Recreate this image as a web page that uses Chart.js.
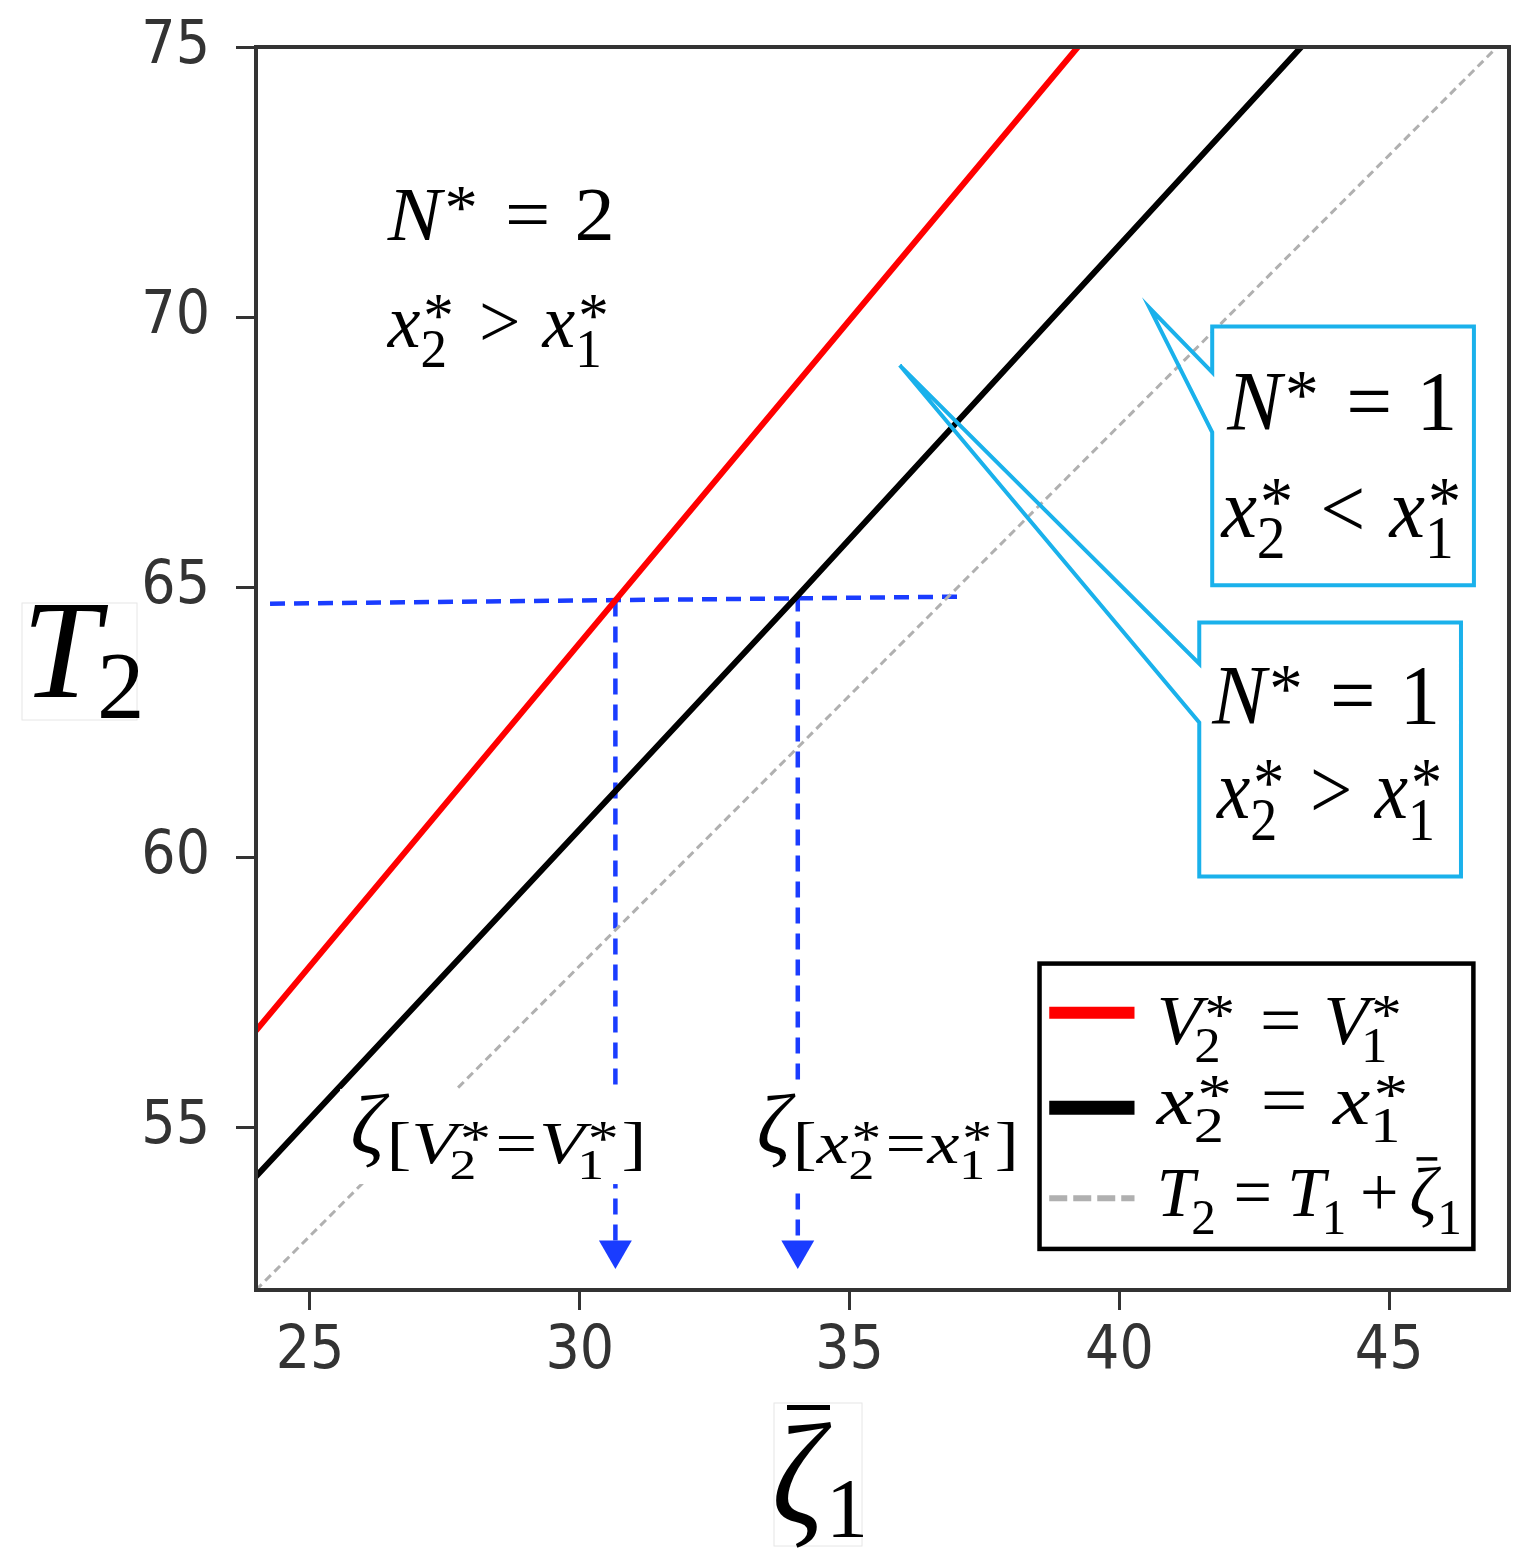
<!DOCTYPE html>
<html>
<head>
<meta charset="utf-8">
<script src="https://cdn.jsdelivr.net/npm/chart.js@4.4.0/dist/chart.umd.min.js"></script>
<style>
  html, body { margin: 0; padding: 0; background: #fff; }
  #wrap { width: 1528px; height: 1562px; }
</style>
</head>
<body>
<div id="wrap"><canvas id="chart"></canvas></div>
<script>
// values (zeta_bar_1 on x, T2 on y)
const zetaV = [24.0, 30.66, 39.23];      // V2* = V1*
const t2V = [56.8, 64.76, 75.0];
const zetaX = [24.0, 34.04, 43.37];      // x2* = x1*
const t2X = [54.1, 64.85, 75.0];
const zetaRef = [24.0, 47.3];            // T2 = T1 + zeta (T1 = 28)
const t2Ref = [52.0, 75.3];
const zetaH = [24.26, 37.15];            // blue helper lines
const t2H = [64.70, 64.83];
const zetaDropV = [30.66, 30.66];
const t2DropV = [64.76, 52.8];
const zetaDropX = [34.04, 34.04];
const t2DropX = [64.85, 52.8];
const zetaArrows = [30.66, 34.04];
const t2Arrows = [52.74, 52.74];
const xTicks = [25, 30, 35, 40, 45];
const yTicks = [55, 60, 65, 70, 75];
const xRange = [24.0, 47.22];
const yRange = [52.0, 75.0];

const BLUE = '#1a3cff';
const CYAN = '#1ab1eb';
const SERIF = '"Liberation Serif", "DejaVu Serif", serif';

function pts(xs, ys) {
  return xs.map((x, i) => ({ x: x, y: ys[i] }));
}

function setF(ctx, it, s) {
  ctx.font = (it ? 'italic ' : '') + s + 'px ' + SERIF;
}

// tiny math typesetter: v = italic, n = roman, o = operator, ss = sub/sup, g = nested group, bar = overbar
function math(ctx, x, y, s, toks, dry) {
  let cx = x;
  const put = (txt, px, py) => { if (!dry) ctx.fillText(txt, px, py); };
  for (const t of toks) {
    const k = t[0];
    if (k === 'v' || k === 'n') {
      setF(ctx, k === 'v', s);
      put(t[1], cx, y);
      cx += ctx.measureText(t[1]).width;
    } else if (k === 'o') {
      const g = (t[2] == null ? 0.3 : t[2]) * s;
      cx += g;
      setF(ctx, false, s);
      put(t[1], cx, y);
      cx += ctx.measureText(t[1]).width + g;
    } else if (k === 'ss') {
      const ss = s * 0.72;
      const dx = (t[3] || 0) * s;
      let w = 0;
      if (t[1]) {
        setF(ctx, false, ss);
        put(t[1], cx + dx, y + 0.26 * s);
        w = ctx.measureText(t[1]).width + dx;
      }
      if (t[2]) {
        setF(ctx, false, ss * 1.15);
        put(t[2], cx + 0.04 * s, y - 0.14 * s);
        w = Math.max(w, ctx.measureText(t[2]).width + 0.04 * s);
      }
      cx += w + 0.04 * s;
    } else if (k === 'g') {
      cx += math(ctx, cx, y + t[2] * s, s * t[1], t[3], dry);
    } else if (k === 'bar') {
      setF(ctx, true, s);
      const w = ctx.measureText(t[1]).width;
      put(t[1], cx, y);
      if (!dry) ctx.fillRect(cx + w * 0.25, y - s * 0.84, w * 0.75, s * 0.05);
      cx += w;
    }
  }
  return cx - x;
}

// draw stretched horizontally to a width measured on the figure
function mathFit(ctx, x, y, s, toks, w, vs) {
  const nat = math(ctx, 0, 0, s, toks, true);
  const hs = w ? w / nat : 1;
  ctx.save();
  ctx.translate(x, y);
  ctx.scale(hs, vs || 1);
  math(ctx, 0, 0, s, toks, false);
  ctx.restore();
  return nat * hs;
}

function callout(ctx, X, Y, box, tip, a1, a2) {
  const x0 = X(box[0]), x1 = X(box[1]), y0 = Y(box[2]), y1 = Y(box[3]);
  ctx.fillStyle = '#fff';
  ctx.fillRect(x0, y0, x1 - x0, y1 - y0);
  ctx.beginPath();
  ctx.moveTo(x0, y0);
  ctx.lineTo(x1, y0);
  ctx.lineTo(x1, y1);
  ctx.lineTo(x0, y1);
  ctx.lineTo(x0, Y(a2));
  ctx.lineTo(X(tip[0]), Y(tip[1]));
  ctx.lineTo(x0, Y(a1));
  ctx.closePath();
  ctx.strokeStyle = CYAN;
  ctx.lineWidth = 4;
  ctx.lineJoin = 'miter';
  ctx.stroke();
}

const decor = {
  id: 'decor',
  afterDatasetsDraw(chart) {
    const ctx = chart.ctx;
    const xs = chart.scales.x, ys = chart.scales.y;
    const X = v => xs.getPixelForValue(v);
    const Y = v => ys.getPixelForValue(v);
    const a = chart.chartArea;
    ctx.save();
    ctx.textBaseline = 'alphabetic';
    ctx.textAlign = 'left';

    // labels with white background under the arrows
    ctx.fillStyle = '#fff';
    ctx.fillRect(X(25.56), Y(55.72), X(31.39) - X(25.56), Y(53.96) - Y(55.72));
    ctx.fillRect(X(33.15), Y(55.72), X(38.33) - X(33.15), Y(53.96) - Y(55.72));
    ctx.fillStyle = '#000';
    let w = mathFit(ctx, X(25.75), Y(54.53), 84, [['v', 'ζ']], 0);
    mathFit(ctx, X(25.75) + w + 2, Y(54.35), 60, [
      ['n', '['], ['v', 'V'], ['ss', '2', '*', -0.1], ['o', '=', 0.02], ['v', 'V'], ['ss', '1', '*', -0.1], ['n', ']']], 260);
    w = mathFit(ctx, X(33.28), Y(54.53), 84, [['v', 'ζ']], 0);
    mathFit(ctx, X(33.28) + w + 2, Y(54.35), 60, [
      ['n', '['], ['v', 'x'], ['ss', '2', '*'], ['o', '=', 0.02], ['v', 'x'], ['ss', '1', '*'], ['n', ']']], 226);

    // region text
    mathFit(ctx, X(26.44), Y(71.43), 76, [['v', 'N'], ['ss', '', '*'], ['o', '='], ['n', '2']], 227);
    mathFit(ctx, X(26.44), Y(69.44), 76, [['v', 'x'], ['ss', '2', '*'], ['o', '>'], ['v', 'x'], ['ss', '1', '*']], 224);

    // callouts
    callout(ctx, X, Y, [41.72, 46.57, 69.83, 65.04], [40.56, 70.17], 68.98, 67.87);
    callout(ctx, X, Y, [41.48, 46.33, 64.35, 59.65], [35.93, 69.11], 63.59, 62.5);
    ctx.fillStyle = '#000';
    mathFit(ctx, X(42.0), Y(67.91), 84, [['v', 'N'], ['ss', '', '*'], ['o', '='], ['n', '1']], 230);
    mathFit(ctx, X(41.89), Y(65.94), 84, [['v', 'x'], ['ss', '2', '*'], ['o', '<'], ['v', 'x'], ['ss', '1', '*']], 243);
    mathFit(ctx, X(41.72), Y(62.48), 84, [['v', 'N'], ['ss', '', '*'], ['o', '='], ['n', '1']], 228);
    mathFit(ctx, X(41.81), Y(60.74), 84, [['v', 'x'], ['ss', '2', '*'], ['o', '>'], ['v', 'x'], ['ss', '1', '*']], 228);

    // legend
    const lx0 = X(38.52), lx1 = X(46.56), ly0 = Y(58.04), ly1 = Y(52.76);
    ctx.fillStyle = '#fff';
    ctx.fillRect(lx0, ly0, lx1 - lx0, ly1 - ly0);
    ctx.strokeStyle = '#000';
    ctx.lineWidth = 4.5;
    ctx.strokeRect(lx0, ly0, lx1 - lx0, ly1 - ly0);
    const ds = chart.data.datasets;
    const rows = [
      { d: ds[0], lw: 12, y: 57.13, ty: 56.56, w: 248, t: [['v', 'V'], ['ss', '2', '*', -0.1], ['o', '='], ['v', 'V'], ['ss', '1', '*', -0.1]] },
      { d: ds[1], lw: 14, y: 55.37, ty: 55.07, w: 255, t: [['v', 'x'], ['ss', '2', '*'], ['o', '='], ['v', 'x'], ['ss', '1', '*']] },
      { d: ds[2], lw: 6, y: 53.70, ty: 53.37, w: 308, t: [['v', 'T'], ['ss', '2', '', -0.05], ['o', '=', 0.22], ['v', 'T'], ['ss', '1', '', -0.05], ['o', '+', 0.16], ['bar', 'ζ'], ['ss', '1', '']] }
    ];
    for (const r of rows) {
      ctx.beginPath();
      ctx.strokeStyle = r.d.borderColor;
      ctx.lineWidth = r.lw;
      ctx.setLineDash(r.d.borderDash && r.d.borderDash.length ? [18, 6] : []);
      ctx.moveTo(X(38.70), Y(r.y));
      ctx.lineTo(X(40.28), Y(r.y));
      ctx.stroke();
      ctx.setLineDash([]);
      ctx.fillStyle = '#000';
      mathFit(ctx, X(40.69), Y(r.ty), 70, r.t, r.w);
    }

    // frame
    ctx.strokeStyle = '#333';
    ctx.lineWidth = 4;
    ctx.strokeRect(a.left, a.top, a.right - a.left, a.bottom - a.top);

    // axis titles
    ctx.strokeStyle = '#e6e6e6';
    ctx.lineWidth = 1;
    ctx.strokeRect(22, 603, 115, 117);
    ctx.strokeRect(774, 1403, 88, 143);
    ctx.fillStyle = '#000';
    mathFit(ctx, 22, 697, 140, [['v', 'T']], 0);
    mathFit(ctx, 97, 718, 95, [['n', '2']], 0);
    mathFit(ctx, 772, 1523, 120, [['v', 'ζ']], 52, 1.2);
    ctx.fillRect(787, 1405, 43, 5);
    mathFit(ctx, 826, 1537, 84, [['n', '1']], 0);
    ctx.restore();
  }
};

const tickFont = { family: '"DejaVu Sans Condensed", "DejaVu Sans", sans-serif', size: 60 };

new Chart(document.getElementById('chart'), {
  type: 'line',
  data: {
    datasets: [
      { label: 'V2* = V1*', data: pts(zetaV, t2V), borderColor: '#ff0000', borderWidth: 6, pointRadius: 0 },
      { label: 'x2* = x1*', data: pts(zetaX, t2X), borderColor: '#000000', borderWidth: 6, pointRadius: 0 },
      { label: 'T2 = T1 + zeta1', data: pts(zetaRef, t2Ref), borderColor: '#b0b0b0', borderWidth: 3, borderDash: [8, 5], pointRadius: 0 },
      { label: 'h', data: pts(zetaH, t2H), borderColor: BLUE, borderWidth: 4.5, borderDash: [15, 9], pointRadius: 0 },
      { label: 'dv', data: pts(zetaDropV, t2DropV), borderColor: BLUE, borderWidth: 4.5, borderDash: [16, 10], pointRadius: 0 },
      { label: 'dx', data: pts(zetaDropX, t2DropX), borderColor: BLUE, borderWidth: 4.5, borderDash: [16, 10], pointRadius: 0 },
      { label: 'arrows', data: pts(zetaArrows, t2Arrows), showLine: false, pointStyle: 'triangle', rotation: 180,
        pointRadius: 19, backgroundColor: BLUE, borderColor: BLUE, borderWidth: 0 }
    ]
  },
  options: {
    responsive: true,
    maintainAspectRatio: false,
    animation: false,
    layout: { padding: { top: 47, right: 18, left: 0, bottom: 0 } },
    plugins: { legend: { display: false }, tooltip: { enabled: false } },
    scales: {
      x: {
        type: 'linear', min: xRange[0], max: xRange[1],
        afterBuildTicks: axis => { axis.ticks = xTicks.map(v => ({ value: v })); },
        afterFit: axis => { axis.height = 272; axis.paddingLeft = 0; axis.paddingRight = 0; },
        border: { display: false },
        grid: { drawOnChartArea: false, drawTicks: true, tickLength: 20, tickColor: '#333', tickWidth: 3 },
        ticks: { font: tickFont, color: '#333', padding: 6, maxRotation: 0 }
      },
      y: {
        type: 'linear', min: yRange[0], max: yRange[1],
        afterBuildTicks: axis => { axis.ticks = yTicks.map(v => ({ value: v })); },
        afterFit: axis => { axis.width = 256; axis.paddingTop = 0; axis.paddingBottom = 0; },
        border: { display: false },
        grid: { drawOnChartArea: false, drawTicks: true, tickLength: 20, tickColor: '#333', tickWidth: 3 },
        ticks: { font: tickFont, color: '#333', padding: 26 }
      }
    }
  },
  plugins: [decor]
});
</script>
</body>
</html>
